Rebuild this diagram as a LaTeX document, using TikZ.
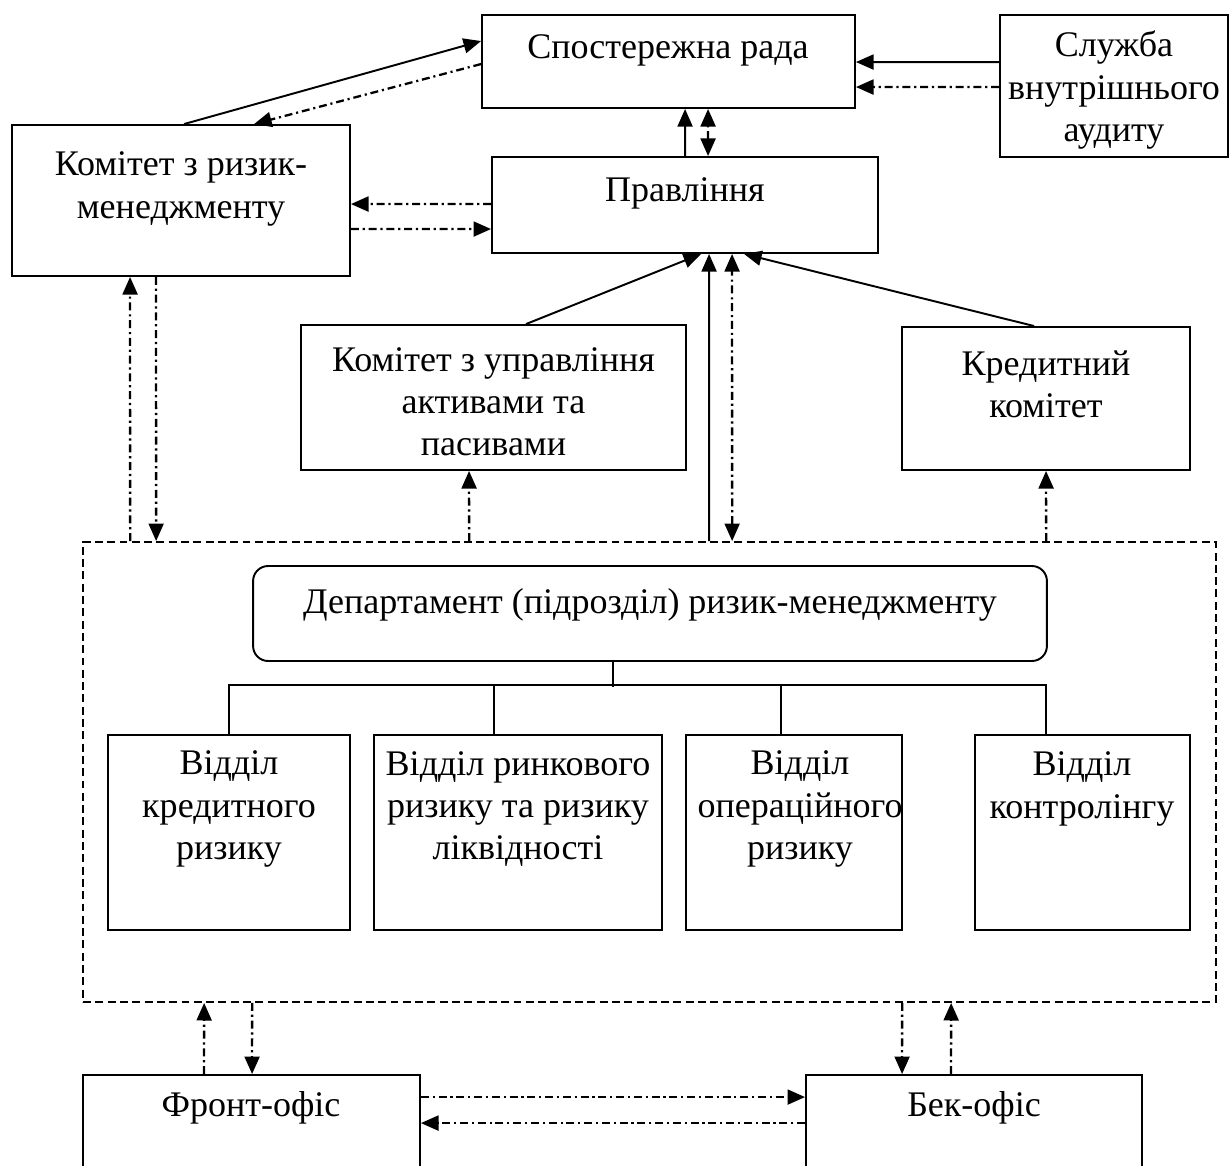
\documentclass[tikz,border=0pt]{standalone}
\usepackage{fontspec}
\setmainfont{Liberation Serif}
\usetikzlibrary{arrows.meta,calc}

\begin{document}
\begin{tikzpicture}[x=0.02cm,y=-0.02cm,
  box/.style={draw,line width=1.1pt,inner sep=0pt},
  lbl/.style={align=center,inner sep=0pt,font=\fontsize{20.5}{24}\selectfont},
  tip/.style={-{Triangle[length=10pt,width=8.5pt]}},
  bothtips/.style={{Triangle[length=10pt,width=8.5pt]}-{Triangle[length=10pt,width=8.5pt]}},
  solidln/.style={line width=1.1pt},
  dashdot/.style={line width=1.3pt,dash pattern=on 4.5pt off 2.2pt on 1.2pt off 2.2pt},
  ]
\clip (0,0) rectangle (1231,1166);

% governing bodies
\node[box,minimum width=7.46cm,minimum height=1.86cm] (rada) at (668.5,61.5) {};
\node[lbl] (radaT) at (668,50) {Спостережна рада};

\node[box,minimum width=4.56cm,minimum height=2.84cm] (audit) at (1114,86) {};
\node[lbl] (auditT) at (1114,90) {Служба\\внутрішнього\\аудиту};

\node[box,minimum width=6.76cm,minimum height=3.02cm] (rrm) at (181,200.5) {};
\node[lbl] (rrmT) at (181,189) {Комітет з ризик-\\менеджменту};

\node[box,minimum width=7.72cm,minimum height=1.92cm] (board) at (685,205) {};
\node[lbl] (boardT) at (685,193) {Правління};

\node[box,minimum width=7.70cm,minimum height=2.90cm] (alco) at (493.5,397.5) {};
\node[lbl] (alcoT) at (493.5,402) {Комітет з управління\\активами та\\пасивами};

\node[box,minimum width=5.76cm,minimum height=2.86cm] (credit) at (1046,398.5) {};
\node[lbl] (creditT) at (1046,384) {Кредитний\\комітет};

% risk management unit
\node[draw,line width=1.1pt,dash pattern=on 4.5pt off 2.5pt,inner sep=0pt,
      minimum width=22.66cm,minimum height=9.20cm] (unit) at (649.5,772) {};

\node[box,rounded corners=0.3cm,minimum width=15.88cm,minimum height=1.90cm] (dept) at (650,613.5) {};
\node[lbl] (deptT) at (650,605) {Департамент (підрозділ) ризик-менеджменту};

\node[box,minimum width=4.84cm,minimum height=3.90cm] (d1) at (229,832.5) {};
\node[lbl] (d1T) at (229,809) {Відділ\\кредитного\\ризику};
\node[box,minimum width=5.76cm,minimum height=3.90cm] (d2) at (518,832.5) {};
\node[lbl] (d2T) at (518,809) {Відділ ринкового\\ризику та ризику\\ліквідності};
\node[box,minimum width=4.32cm,minimum height=3.90cm] (d3) at (794,832.5) {};
\node[lbl] (d3T) at (800,809) {Відділ\\операційного\\ризику};
\node[box,minimum width=4.30cm,minimum height=3.90cm] (d4) at (1082.5,832.5) {};
\node[lbl] (d4T) at (1082,789) {Відділ\\контролінгу};

% operational offices
\node[box,minimum width=6.74cm,minimum height=7cm] (front) at (251.5,1250) {};
\node[lbl] (frontT) at (251,1108) {Фронт-офіс};
\node[box,minimum width=6.72cm,minimum height=7cm] (back) at (974,1250) {};
\node[lbl] (backT) at (974,1108) {Бек-офіс};

% department tree
\draw[solidln] ($(dept.south)+(-37,0)$) -- ++(0,25);
\draw[solidln] (d1.north) -- ++(0,-49) -| ($(d4.north west)+(72,0)$);
\draw[solidln] ($(d2.north west)+(121,0)$) -- ++(0,-49);
\draw[solidln] ($(d3.north west)+(96,0)$) -- ++(0,-49);

% supervisory board links
\draw[solidln,tip] ($(rrm.north west)+(173,0)$) -- ($(rada.north west)+(0,27)$);
\draw[dashdot,tip] ($(rada.north west)+(0,50)$) -- ($(rrm.north west)+(243,0)$);
\draw[solidln,tip] ($(audit.north west)+(0,48)$) -- ($(rada.north east)+(0,48)$);
\draw[dashdot,tip] ($(audit.north west)+(0,73)$) -- ($(rada.north east)+(0,73)$);
\draw[solidln,tip] ($(board.north west)+(194,0)$) -- ($(rada.south west)+(204,0)$);
\draw[dashdot,bothtips] ($(board.north west)+(217,0)$) -- ($(rada.south west)+(227,0)$);

% management board links
\draw[dashdot,tip] ($(board.north west)+(0,48)$) -- ($(rrm.north east)+(0,80)$);
\draw[dashdot,tip] ($(rrm.north east)+(0,105)$) -- ($(board.north west)+(0,73)$);
\draw[solidln,tip] ($(alco.north west)+(226,0)$) -- ($(board.south west)+(210,0)$);
\draw[solidln,tip] ($(credit.north west)+(133,0)$) -- ($(board.south west)+(253,0)$);
\draw[solidln,tip] ($(unit.north west)+(627,0)$) -- ($(board.south west)+(218,0)$);
\draw[dashdot,bothtips] ($(unit.north west)+(650,0)$) -- ($(board.south west)+(241,0)$);

% committees and the unit
\draw[dashdot,tip] ($(unit.north west)+(387,0)$) -- ($(alco.south west)+(169,0)$);
\draw[dashdot,tip] ($(unit.north west)+(964,0)$) -- ($(credit.south west)+(145,0)$);
\draw[dashdot,tip] ($(unit.north west)+(48,0)$) -- ($(rrm.south west)+(119,0)$);
\draw[dashdot,tip] ($(rrm.south west)+(145,0)$) -- ($(unit.north west)+(74,0)$);

% unit and offices
\draw[dashdot,tip] ($(front.north west)+(122,0)$) -- ($(unit.south west)+(122,0)$);
\draw[dashdot,tip] ($(unit.south west)+(170,0)$) -- ($(front.north west)+(170,0)$);
\draw[dashdot,tip] ($(unit.south west)+(820,0)$) -- ($(back.north west)+(97,0)$);
\draw[dashdot,tip] ($(back.north west)+(146,0)$) -- ($(unit.south west)+(869,0)$);
\draw[dashdot,tip] ($(front.north east)+(0,23)$) -- ($(back.north west)+(0,23)$);
\draw[dashdot,tip] ($(back.north west)+(0,49)$) -- ($(front.north east)+(0,49)$);
\end{tikzpicture}
\end{document}
